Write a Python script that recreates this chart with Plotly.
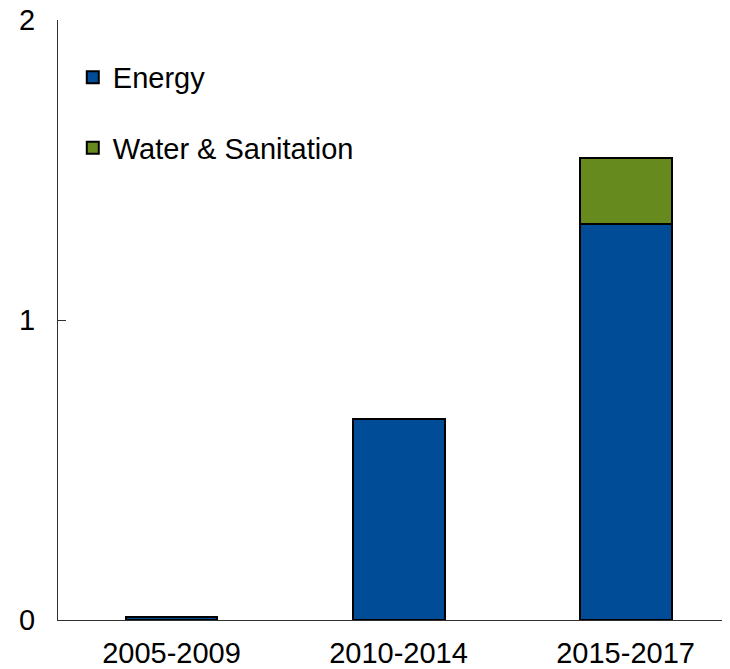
import plotly.graph_objects as go

categories = ["2005-2009", "2010-2014", "2015-2017"]
energy = [0.01, 0.67, 1.32]
water = [0.0, 0.0, 0.22]
y_ticks = [0, 1, 2]

fig = go.Figure()
fig.add_trace(go.Bar(x=categories, y=energy, name="Energy", legendgroup="e",
                     marker=dict(color="#004C97", line=dict(color="black", width=2)),
                     width=0.405))
fig.add_trace(go.Bar(x=categories, y=water, name="Water & Sanitation", legendgroup="w",
                     marker=dict(color="#678A1F", line=dict(color="black", width=2)),
                     width=0.405))

fig.update_layout(
    width=722, height=661,
    barmode="stack",
    plot_bgcolor="white", paper_bgcolor="white",
    margin=dict(l=50, r=0, t=12, b=49, autoexpand=False),
    font=dict(family="Liberation Sans, Arial, sans-serif", size=29, color="black"),
    showlegend=True,
    legend=dict(x=0.022, y=0.947, xanchor="left", yanchor="top",
                traceorder="grouped", tracegroupgap=30,
                font=dict(size=29), itemwidth=30, bgcolor="rgba(0,0,0,0)"),
    xaxis=dict(range=[-0.5, 2.46], showline=True, linecolor="#303030", linewidth=1,
               ticks="", showgrid=False, tickfont=dict(size=29), ticklabelstandoff=7,
               automargin=False),
    yaxis=dict(range=[0, 2], tickvals=y_ticks, showline=True, linecolor="#303030", linewidth=1,
               ticks="inside", ticklen=8, tickcolor="#303030", showgrid=False,
               zeroline=False, tickfont=dict(size=29), ticklabelstandoff=16,
               ticklabeloverflow="allow", automargin=False),
)

fig.write_html("out.html")
